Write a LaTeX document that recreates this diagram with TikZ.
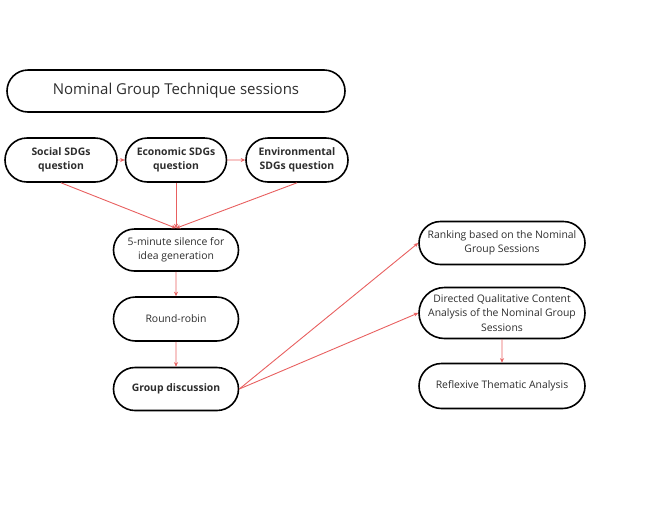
\documentclass[tikz,border=0pt]{standalone}
\usepackage{fontspec}
\setmainfont{Open Sans}
\usetikzlibrary{arrows.meta,shapes.misc}
\definecolor{linkred}{RGB}{232,96,96}
\definecolor{inkgray}{RGB}{45,45,45}
\tikzset{
  pill/.style={rounded rectangle, draw=black, line width=1.6pt, align=center,
    text=inkgray, inner sep=2pt, font=\fontsize{10.4}{14.5}\selectfont},
  link/.style={draw=linkred, line width=0.9pt, -{Stealth[length=4.5pt,width=4pt]}}
}
\begin{document}
\begin{tikzpicture}[x=1pt,y=-1pt]
\useasboundingbox (0,0) rectangle (669,528);
% top row
\node [pill, minimum width=342pt, minimum height=42pt, font=\fontsize{15}{17}\selectfont] (ngt) at (176,91) {Nominal Group Technique sessions};
\node [pill, minimum width=116pt, minimum height=44pt, font=\fontsize{10.4}{14.5}\selectfont\bfseries] (social) at (61,160) {Social SDGs\\question};
\node [pill, minimum width=105pt, minimum height=44pt, font=\fontsize{10.4}{14.5}\selectfont\bfseries] (economic) at (176,160) {Economic SDGs\\question};
\node [pill, minimum width=106pt, minimum height=44pt, font=\fontsize{10.4}{14.5}\selectfont\bfseries] (environ) at (297,160) {Environmental\\SDGs question};
% middle column
\node [pill, minimum width=129pt, minimum height=42pt] (silence) at (176,250) {5-minute silence for\\idea generation};
\node [pill, minimum width=129pt, minimum height=44pt] (robin) at (176,319) {Round-robin};
\node [pill, minimum width=129pt, minimum height=43pt, font=\fontsize{10.4}{14.5}\selectfont\bfseries] (discuss) at (176,389) {Group discussion};
% right column
\node [pill, minimum width=170pt, minimum height=43pt] (ranking) at (502,243) {Ranking based on the Nominal\\Group Sessions};
\node [pill, minimum width=170pt, minimum height=51pt] (directed) at (502,313) {Directed Qualitative Content\\Analysis of the Nominal Group\\Sessions};
\node [pill, minimum width=170pt, minimum height=45pt] (reflex) at (502,386) {Reflexive Thematic Analysis};
% connectors
\draw [link] (social) -- (economic);
\draw [link] (economic) -- (environ);
\draw [link] (social.south) -- (silence.north);
\draw [link] (economic.south) -- (silence.north);
\draw [link] (environ.south) -- (silence.north);
\draw [link] (silence) -- (robin);
\draw [link] (robin) -- (discuss);
\draw [link] (discuss.east) -- (ranking.west);
\draw [link] (discuss.east) -- (directed.west);
\draw [link] (directed) -- (reflex);
\end{tikzpicture}
\end{document}
